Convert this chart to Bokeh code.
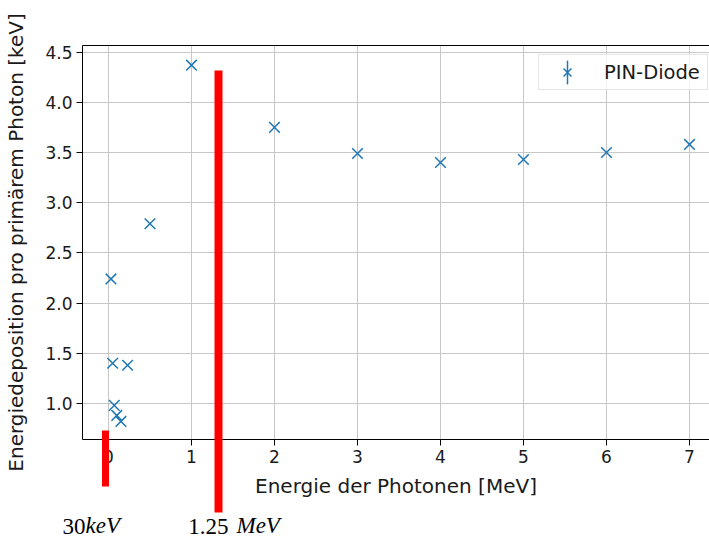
from bokeh.plotting import figure
from bokeh.models import (ColumnDataSource, Range1d, FixedTicker, NumeralTickFormatter,
                          Legend, LegendItem, LinearAxis)
from bokeh.embed import file_html
from bokeh.resources import INLINE

# ---- data ----
energy_mev = [0.03, 0.05, 0.07, 0.1, 0.15, 0.23, 0.5, 1, 2, 3, 4, 5, 6, 7]
deposition_kev = [2.24, 1.40, 0.98, 0.88, 0.82, 1.38, 2.79, 4.37, 3.75, 3.49, 3.40, 3.43, 3.50, 3.58]
x_ticks = [0, 1, 2, 3, 4, 5, 6, 7]
y_ticks = [1.0, 1.5, 2.0, 2.5, 3.0, 3.5, 4.0, 4.5]
series_label = "PIN-Diode"

# red hand-drawn markers: energy of bar centre, top and bottom (in keV axis units)
mark_center = [-0.040, 1.327]
mark_top = [0.742, 4.321]
mark_bottom = [0.186, -0.073]
mark_width_px = [7, 8]
# hand-written texts below the chart: number (upright) and unit (italic), centred at x
NBSP = "\u00a0"
mark_num = ["30" + NBSP * 4, "1.25"]
mark_num_x = [-0.277, 1.205]
mark_unit = ["keV", "MeV"]
mark_unit_x = [-0.069, 1.804]

BLUE = "#1f77b4"
FONT = "DejaVu Sans"
X0, X1, Y0, Y1 = -0.313, 7.241, 0.64, 4.566
W, H = 709, 541
BL, BR, BT, BB = 82, 0, 45, 101

p = figure(width=W, height=H, output_backend="svg", toolbar_location=None,
           x_range=Range1d(X0, X1), y_range=Range1d(Y0, Y1),
           min_border_left=BL, min_border_right=BR, min_border_top=BT, min_border_bottom=BB)
p.background_fill_color = "white"
p.border_fill_color = "white"
p.outline_line_color = None

src = ColumnDataSource(dict(x=energy_mev, y=deposition_kev))
r_pts = p.scatter("x", "y", source=src, marker="x", size=15, line_color=BLUE, line_width=1.5)

# vertical errorbar stroke for the legend symbol only (no visible data)
nan_src = ColumnDataSource(dict(x=[float("nan")], y=[float("nan")]))
r_bar = p.ellipse(x="x", y="y", width=0.01, height=20, width_units="screen",
                  height_units="screen", source=nan_src, fill_color=None,
                  line_color=BLUE, line_width=1.5)

# main axes
xax = p.xaxis[0]
yax = p.yaxis[0]
for ax in (xax, yax):
    ax.axis_line_color = "black"
    ax.major_tick_line_color = "black"
    ax.major_tick_out = 6
    ax.major_tick_in = 0
    ax.minor_tick_line_color = None
    ax.major_label_text_font = FONT
    ax.major_label_text_font_size = "17px"
    ax.major_label_text_color = "#1a1a1a"
    ax.axis_label_text_font = FONT
    ax.axis_label_text_font_size = "20px"
    ax.axis_label_text_font_style = "normal"
    ax.axis_label_text_color = "#1a1a1a"

xax.ticker = FixedTicker(ticks=x_ticks)
yax.ticker = FixedTicker(ticks=y_ticks)
yax.formatter = NumeralTickFormatter(format="0.0")
xax.axis_label = "Energie der Photonen [MeV]"
yax.axis_label = "Energiedeposition pro primärem Photon [keV]"
xax.axis_label_standoff = 8
yax.axis_label_standoff = 14
xax.major_label_standoff = 4
yax.major_label_standoff = 4

p.grid.grid_line_color = "#c8c8c8"
p.grid.grid_line_width = 1

legend = Legend(items=[LegendItem(label=series_label, renderers=[r_bar, r_pts])],
                location=(456, 349), padding=3, glyph_width=50, glyph_height=28,
                label_standoff=12, label_width=100, spacing=0, margin=0,
                label_text_font=FONT, label_text_font_size="19.5px", label_text_color="#1a1a1a",
                border_line_color="#cccccc", border_line_width=1,
                background_fill_color="white", background_fill_alpha=0.8)
p.add_layout(legend)

# top spine (no right spine: the reference is cut at the right edge)
top_ax = LinearAxis(ticker=FixedTicker(ticks=[]), axis_line_color="black", axis_line_width=1,
                    major_tick_line_color=None, minor_tick_line_color=None,
                    major_tick_in=0, major_tick_out=0, minor_tick_in=0, minor_tick_out=0,
                    major_label_standoff=0, major_label_text_font_size="1px")
p.add_layout(top_ax, "above")

# red hand-drawn bars: long red ticks of zero-size axes above the frame (not clipped)
ppy = (H - BT - BB) / (Y1 - Y0)
for c, t, b, w in zip(mark_center, mark_top, mark_bottom, mark_width_px):
    t_out = -int(round((Y1 - t) * ppy))
    t_in = int(round((Y1 - b) * ppy))
    ax = LinearAxis(ticker=FixedTicker(ticks=[c]),
                    axis_line_color=None, minor_tick_line_color=None,
                    minor_tick_in=0, minor_tick_out=0,
                    major_tick_line_color="red", major_tick_line_width=w,
                    major_tick_in=t_in, major_tick_out=t_out,
                    major_label_standoff=-t_out, major_label_text_font_size="1px",
                    major_label_overrides={c: ""}, level="overlay")
    p.add_layout(ax, "above")

# hand-written texts as labels of extra axes stacked below the x axis
txt_style = dict(axis_line_color=None, major_tick_line_color=None, minor_tick_line_color=None,
                 major_tick_in=0, major_tick_out=0, minor_tick_in=0, minor_tick_out=0,
                 major_label_text_font="Liberation Serif", major_label_text_font_size="23px",
                 major_label_text_color="black", level="overlay")
num_ax = LinearAxis(ticker=FixedTicker(ticks=mark_num_x), major_label_standoff=13,
                    major_label_overrides=dict(zip(mark_num_x, mark_num)), **txt_style)
p.add_layout(num_ax, "below")
unit_ax = LinearAxis(ticker=FixedTicker(ticks=mark_unit_x), major_label_standoff=-29,
                     major_label_overrides=dict(zip(mark_unit_x, mark_unit)),
                     major_label_text_font_style="italic", **txt_style)
p.add_layout(unit_ax, "below")

open("out.html", "w").write(file_html(p, INLINE))
